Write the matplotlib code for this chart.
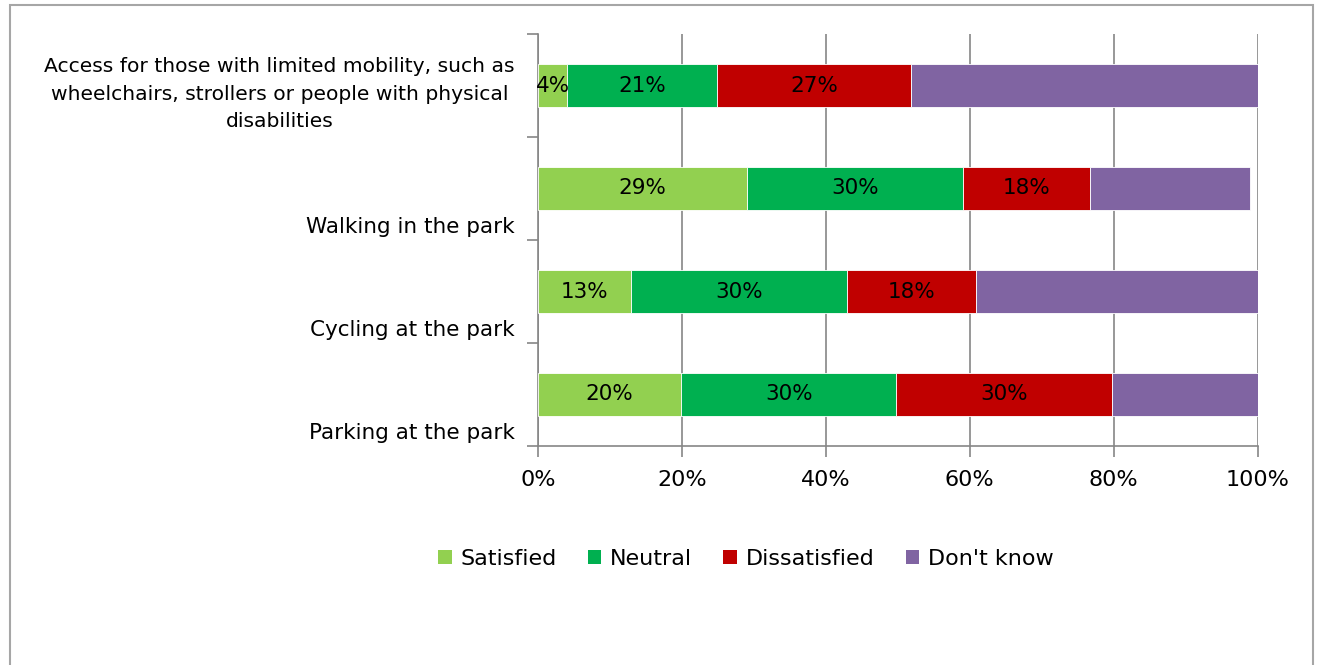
import matplotlib
matplotlib.use("Agg")
import matplotlib.pyplot as plt
from matplotlib.patches import Rectangle, Patch
import numpy as np

categories = [
    "Access for those with limited mobility, such as\nwheelchairs, strollers or people with physical\ndisabilities",
    "Walking in the park",
    "Cycling at the park",
    "Parking at the park",
]
series_names = ["Satisfied", "Neutral", "Dissatisfied", "Don't know"]
satisfied = [4.1, 29.1, 12.9, 19.9]
neutral = [20.8, 30.0, 30.0, 29.9]
dissatisfied = [26.9, 17.6, 18.0, 30.0]
dont_know = [48.2, 22.3, 39.1, 20.2]
show_labels = [True, True, True, False]
colors = ["#92D050", "#00B050", "#C00000", "#8064A2"]
x_ticks = [0, 20, 40, 60, 80, 100]
x_tick_labels = ["0%", "20%", "40%", "60%", "80%", "100%"]

plt.rcParams['font.family'] = ['DejaVu Sans']
FS = 15.5

W, H = 1318, 665
fig = plt.figure(figsize=(W / 100, H / 100), dpi=100)
ax = fig.add_axes([538 / W, 1 - 446 / H, (1257.5 - 538) / W, (446 - 34) / H])

grid_c = "#868686"
y = np.arange(len(categories))
left = np.zeros(len(categories))
for vals, col, lab in zip([satisfied, neutral, dissatisfied, dont_know], colors, show_labels):
    vals = np.array(vals)
    ax.barh(y, vals, left=left, height=0.41, color=col, edgecolor="white",
            linewidth=0.6, zorder=3)
    if lab:
        for yi, l, v in zip(y, left, vals):
            ax.text(l + v / 2, yi, f"{int(round(v))}%", ha="center", va="center",
                    fontsize=FS, color="black", zorder=4)
    left = left + vals

ax.set_xlim(0, 100)
ax.set_ylim(3.5, -0.5)
ax.set_xticks(x_ticks)
ax.set_xticklabels(x_tick_labels, fontsize=FS + 0.5)
ax.set_yticks([-0.5, 0.5, 1.5, 2.5, 3.5])
ax.set_yticklabels([])
ax.tick_params(axis="x", length=8, width=1.2, color=grid_c, pad=9)
ax.tick_params(axis="y", length=8, width=1.2, color=grid_c)
ax.grid(axis="x", color=grid_c, linewidth=1.2, zorder=0)
for s in ["top", "right"]:
    ax.spines[s].set_visible(False)
for s in ["left", "bottom"]:
    ax.spines[s].set_color(grid_c)
    ax.spines[s].set_linewidth(1.2)

for yi, name in zip(y, categories):
    multi = "\n" in name
    ax.text(-0.032, yi + (0.44 if multi else 0.47), name,
            transform=ax.get_yaxis_transform(),
            ha="right", va="bottom", multialignment="center",
            fontsize=(14.6 if multi else FS), color="black", linespacing=1.55)

handles = [Patch(facecolor=c, edgecolor="none") for c in colors]
fig.legend(handles, series_names, loc="center", bbox_to_anchor=(746 / W, 1 - 559 / H),
           ncol=4, frameon=False, fontsize=16, handlelength=0.6, handleheight=0.6,
           handletextpad=0.4, columnspacing=1.4)

fig.add_artist(Rectangle((10 / W, -0.02), (1313 - 10) / W, (1 - 5 / H) + 0.02,
                         transform=fig.transFigure, fill=False, edgecolor="#A6A6A6",
                         linewidth=1.5))

fig.savefig("out.png", dpi=100)
